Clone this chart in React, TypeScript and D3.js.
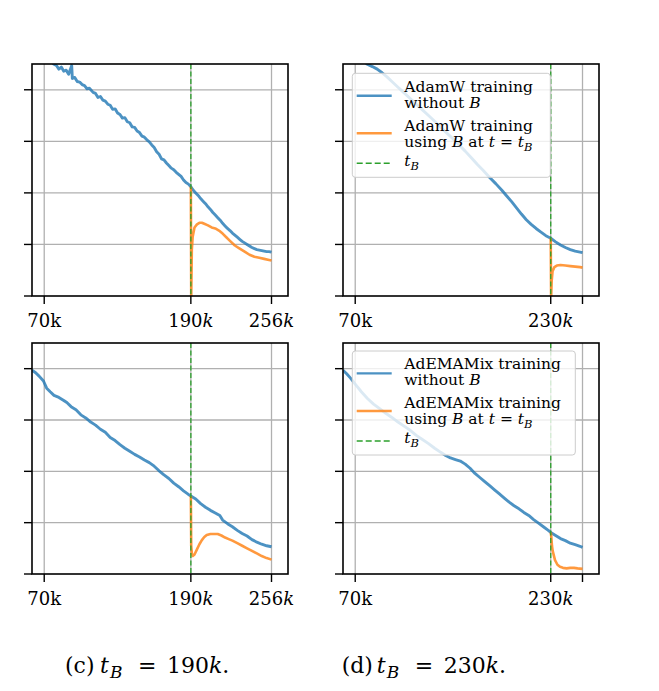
import React from 'react';
import * as d3 from 'd3';

type Pt = [number, number];

// ---------- data (x in thousands of steps, y in axis units) ----------
const optimizerNames = ['AdamW', 'AdEMAMix'];
const tBValues = [190, 230];
const captionLetters = ['(c)', '(d)'];

const xTicks190 = [70, 190, 256];
const xTickLabels190 = ['70', '190', '256'];
const xTickItalic190 = [false, true, true];
const xTicks230 = [70, 230, 256];
const xTickLabels230 = ['70', '230', ''];
const xTickItalic230 = [false, true, true];
const yTicks = [0, 1, 2, 3, 4];

const adamwT190Base: Pt[] = [
  [72, 4.85], [77.6, 4.5], [80, 4.47], [82, 4.4], [84, 4.44], [86, 4.36], [88, 4.38], [90, 4.3], [92.5, 4.47], [93, 4.22], [95, 4.24], [97, 4.16],
  [99, 4.15], [101, 4.1], [103, 4.08], [105, 4.02], [107, 4.03], [110, 3.95], [112, 3.93], [114, 3.85], [116, 3.87], [118, 3.8], [120, 3.78], [122, 3.72], [124, 3.7], [126, 3.62], [128, 3.63], [130, 3.55],
  [132, 3.52], [134, 3.45], [136, 3.46], [138, 3.38], [140, 3.36], [142, 3.28], [144, 3.27], [146, 3.2], [148, 3.17], [150, 3.1], [152, 3.08], [154, 3.03], [156, 2.99], [158, 2.93], [160, 2.88], [162, 2.8],
  [164, 2.75], [166, 2.66], [168, 2.64], [170, 2.58], [172, 2.53], [174, 2.48], [176, 2.45], [178, 2.4], [180, 2.36], [182, 2.32], [184, 2.25], [186, 2.2], [188, 2.17], [190, 2.12], [192, 2.05], [194, 2.0],
  [196, 1.95], [198, 1.89], [200, 1.84], [202, 1.79], [204, 1.73], [206, 1.68], [208, 1.62], [210, 1.57], [212, 1.52], [214, 1.47], [216, 1.41], [218, 1.36], [220, 1.31], [222, 1.27], [224, 1.22], [226, 1.18],
  [228, 1.14], [230, 1.1], [232, 1.06], [234, 1.03], [236, 1.0], [238, 0.97], [240, 0.94], [242, 0.92], [244, 0.9], [246, 0.89], [248, 0.88], [250, 0.87], [252, 0.86], [254, 0.86], [256, 0.85],
];
const adamwT190Reset: Pt[] = [
  [190, 2.12], [190.3, -0.05], [190.8, 0.9], [191.5, 1.15], [193, 1.33], [195, 1.39], [197, 1.42],
  [199, 1.42], [201, 1.4], [204, 1.37], [207, 1.33], [210, 1.31], [213, 1.27], [216, 1.21], [219, 1.14],
  [222, 1.07], [226, 0.98], [230, 0.92], [234, 0.86], [238, 0.8], [242, 0.76], [246, 0.74], [250, 0.72],
  [254, 0.7], [256, 0.69],
];
const adamwT230Base: Pt[] = [
  [75, 4.75], [79.4, 4.5], [84, 4.45], [88, 4.4], [92, 4.33], [96, 4.25], [100, 4.16], [105, 4.05],
  [110, 3.94], [115, 3.83], [120, 3.72], [125, 3.61], [130, 3.5], [135, 3.39], [140, 3.27], [145, 3.16],
  [150, 3.05], [155, 2.93], [160, 2.81], [165, 2.68], [170, 2.55], [175, 2.43], [180, 2.3], [185, 2.18],
  [190, 2.05], [194, 1.94], [198, 1.83], [202, 1.71], [206, 1.59], [210, 1.48], [214, 1.39], [218, 1.31],
  [222, 1.24], [226, 1.17], [230, 1.12], [234, 1.05], [238, 0.99], [242, 0.94], [246, 0.9], [250, 0.87],
  [254, 0.85], [256, 0.84],
];
const adamwT230Reset: Pt[] = [
  [230, 1.12], [230.3, -0.05], [230.8, 0.3], [231.5, 0.48], [233, 0.56], [235, 0.59], [238, 0.6],
  [242, 0.59], [246, 0.58], [250, 0.57], [254, 0.56], [256, 0.55],
];
const ademixT190Base: Pt[] = [
  [60, 3.97], [63, 3.92], [66, 3.85], [69.4, 3.76], [72, 3.62], [74.9, 3.55], [78, 3.48], [82, 3.44],
  [86, 3.38], [88.5, 3.34], [92, 3.26], [96, 3.2], [100, 3.1], [104, 3.04], [108, 2.96], [112, 2.9],
  [116, 2.82], [120, 2.76], [124, 2.66], [128, 2.6], [132, 2.52], [136, 2.45], [140, 2.39], [144, 2.33],
  [148, 2.28], [152, 2.22], [156, 2.17], [160, 2.1], [164, 2.01], [168, 1.93], [172, 1.86], [176, 1.77],
  [180, 1.7], [184, 1.62], [188, 1.55], [190, 1.52], [194, 1.46], [198, 1.37], [202, 1.3], [206, 1.24],
  [210, 1.19], [213.7, 1.14], [216, 1.05], [220, 0.98], [224, 0.92], [228, 0.85], [232, 0.79], [236, 0.74],
  [240, 0.67], [244, 0.62], [248, 0.58], [252, 0.55], [256, 0.53],
];
const ademixT190Reset: Pt[] = [
  [190, 1.52], [190.3, 0.55], [190.8, 0.4], [191.5, 0.35], [193, 0.38], [195, 0.48], [197, 0.58],
  [199, 0.66], [201, 0.72], [203, 0.76], [206, 0.78], [209, 0.78], [212, 0.78], [215, 0.75], [218, 0.71],
  [221, 0.68], [224, 0.65], [228, 0.6], [232, 0.55], [236, 0.5], [240, 0.45], [244, 0.4], [248, 0.35],
  [252, 0.31], [256, 0.28],
];
const ademixT230Base: Pt[] = [
  [60, 3.97], [63, 3.9], [66, 3.82], [70, 3.7], [75, 3.55], [80, 3.42], [85, 3.31], [90, 3.22],
  [95, 3.13], [100, 3.05], [105, 2.96], [110, 2.88], [115, 2.8], [120, 2.7], [125, 2.62], [130, 2.54],
  [135, 2.45], [140, 2.37], [144, 2.31], [148, 2.26], [152, 2.23], [156, 2.2], [160, 2.14], [164, 2.06],
  [168, 1.96], [172, 1.88], [176, 1.8], [180, 1.72], [184, 1.64], [188, 1.56], [192, 1.48], [196, 1.4],
  [200, 1.33], [204, 1.27], [208, 1.2], [212, 1.14], [216, 1.06], [220, 0.99], [224, 0.92], [228, 0.85],
  [230, 0.81], [234, 0.75], [238, 0.69], [242, 0.65], [246, 0.6], [250, 0.57], [254, 0.54], [256, 0.52],
];
const ademixT230Reset: Pt[] = [
  [230, 0.81], [230.5, 0.72], [231, 0.55], [231.6, 0.45], [233.5, 0.27], [235.5, 0.18], [237.6, 0.14],
  [240, 0.12], [243, 0.11], [246, 0.12], [249, 0.12], [252, 0.11], [256, 0.1],
];

// ---------- styling ----------
const SERIF = "'DejaVu Serif', serif";
const BLUE = '#1f77b4';
const ORANGE = '#ff7f0e';
const GREEN = '#2ca02c';
const X_DOMAIN: [number, number] = [60, 269.5];
const Y_DOMAIN: [number, number] = [0, 4.5];

interface PanelProps {
  id: string;
  x0: number; y0: number; w: number; h: number;
  base: Pt[]; reset: Pt[]; tB: number;
  ticks: number[]; labels: string[]; italic: boolean[];
  legendName?: string; legendW?: number; legendDy?: number;
}

function Legend({ x, y, w, h, name }: { x: number; y: number; w: number; h: number; name: string }) {
  const hx1 = x + 4.4, hx2 = x + 39.4, tx = x + 52;
  return (
    <g fontFamily={SERIF} fontSize={15.5} fill="#000">
      <rect x={x} y={y} width={w} height={h} rx={3} fill="#fff" fillOpacity={0.8} stroke="#ccc" strokeWidth={1} />
      <line x1={hx1} x2={hx2} y1={y + 22.4} y2={y + 22.4} stroke={BLUE} strokeOpacity={0.8} strokeWidth={2.4} />
      <text x={tx} y={y + 18.4}>{name} training</text>
      <text x={tx} y={y + 34.4}>without <tspan fontStyle="italic">B</tspan></text>
      <line x1={hx1} x2={hx2} y1={y + 60} y2={y + 60} stroke={ORANGE} strokeOpacity={0.8} strokeWidth={2.4} />
      <text x={tx} y={y + 57.4}>{name} training</text>
      <text x={tx} y={y + 73.4}>
        using <tspan fontStyle="italic">B</tspan> at <tspan fontStyle="italic">t</tspan> = <tspan fontStyle="italic">t</tspan>
        <tspan fontStyle="italic" fontSize={11.5} dy={4}>B</tspan>
      </text>
      <line x1={hx1} x2={hx2} y1={y + 90} y2={y + 90} stroke={GREEN} strokeWidth={1.6} strokeDasharray="6,3" />
      <text x={tx} y={y + 92.4}>
        <tspan fontStyle="italic">t</tspan>
        <tspan fontStyle="italic" fontSize={11.5} dy={4}>B</tspan>
      </text>
    </g>
  );
}

function Panel(p: PanelProps) {
  const xs = d3.scaleLinear().domain(X_DOMAIN).range([p.x0, p.x0 + p.w]);
  const ys = d3.scaleLinear().domain(Y_DOMAIN).range([p.y0 + p.h, p.y0]);
  const line = d3.line<Pt>().x(d => xs(d[0])).y(d => ys(d[1]));
  const bottom = p.y0 + p.h;
  return (
    <g>
      <defs>
        <clipPath id={p.id}>
          <rect x={p.x0} y={p.y0} width={p.w} height={p.h} />
        </clipPath>
      </defs>
      {yTicks.filter(t => t > 0).map(t => (
        <line key={'gy' + t} x1={p.x0} x2={p.x0 + p.w} y1={ys(t)} y2={ys(t)} stroke="#b0b0b0" strokeWidth={1.3} />
      ))}
      {p.ticks.map(t => (
        <line key={'gx' + t} x1={xs(t)} x2={xs(t)} y1={p.y0} y2={bottom} stroke="#b0b0b0" strokeWidth={1.3} />
      ))}
      <g clipPath={`url(#${p.id})`}>
        <path d={line(p.base) || ''} fill="none" stroke={BLUE} strokeOpacity={0.8} strokeWidth={2.9} strokeLinejoin="round" />
        <path d={line(p.reset) || ''} fill="none" stroke={ORANGE} strokeOpacity={0.8} strokeWidth={2.6} strokeLinejoin="round" />
        <line x1={xs(p.tB)} x2={xs(p.tB)} y1={p.y0} y2={bottom} stroke={GREEN} strokeWidth={1.3} strokeDasharray="5,2.5" />
      </g>
      <rect x={p.x0} y={p.y0} width={p.w} height={p.h} fill="none" stroke="#000" strokeWidth={1.6} />
      {yTicks.map(t => (
        <line key={'ty' + t} x1={p.x0 - 8} x2={p.x0} y1={ys(t)} y2={ys(t)} stroke="#000" strokeWidth={1.4} />
      ))}
      {p.ticks.map(t => (
        <line key={'tx' + t} x1={xs(t)} x2={xs(t)} y1={bottom} y2={bottom + 8} stroke="#000" strokeWidth={1.4} />
      ))}
      {p.ticks.map((t, i) => p.labels[i] ? (
        <text key={'lx' + t} x={xs(t)} y={bottom + 31} textAnchor="middle" fontFamily={SERIF} fontSize={18}>
          {p.labels[i]}
          <tspan fontStyle={p.italic[i] ? 'italic' : 'normal'}>k</tspan>
        </text>
      ) : null)}
      {p.legendName ? (
        <Legend x={p.x0 + 9.3} y={p.y0 + (p.legendDy ?? 9)} w={p.legendW ?? 200} h={104} name={p.legendName} />
      ) : null}
    </g>
  );
}

function Caption({ x, letter, tB }: { x: number; letter: string; tB: number }) {
  const y = 673;
  return (
    <text y={y} fontFamily={SERIF} fontSize={22}>
      <tspan x={x}>{letter}</tspan>
      <tspan x={x + 35} fontStyle="italic">t</tspan>
      <tspan x={x + 45} fontStyle="italic" fontSize={17} dy={5}>B</tspan>
      <tspan x={x + 73} dy={-5}>=</tspan>
      <tspan x={x + 102}>{tB}</tspan>
      <tspan fontStyle="italic">k</tspan>
      <tspan>.</tspan>
    </text>
  );
}

export default function App() {
  return (
    <svg width={659} height={691} style={{ position: 'absolute', left: 0, top: 0, background: '#fff' }}>
      <rect x={0} y={0} width={659} height={691} fill="#fff" />
      <Panel id="p1" x0={32} y0={64} w={256} h={232} base={adamwT190Base} reset={adamwT190Reset} tB={tBValues[0]}
        ticks={xTicks190} labels={xTickLabels190} italic={xTickItalic190} />
      <Panel id="p2" x0={343} y0={64} w={256} h={232} base={adamwT230Base} reset={adamwT230Reset} tB={tBValues[1]}
        ticks={xTicks230} labels={xTickLabels230} italic={xTickItalic230}
        legendName={optimizerNames[0]} legendW={198} legendDy={9.3} />
      <Panel id="p3" x0={32} y0={343} w={256} h={231} base={ademixT190Base} reset={ademixT190Reset} tB={tBValues[0]}
        ticks={xTicks190} labels={xTickLabels190} italic={xTickItalic190} />
      <Panel id="p4" x0={343} y0={343} w={256} h={231} base={ademixT230Base} reset={ademixT230Reset} tB={tBValues[1]}
        ticks={xTicks230} labels={xTickLabels230} italic={xTickItalic230}
        legendName={optimizerNames[1]} legendW={223} legendDy={8} />
      <Caption x={65} letter={captionLetters[0]} tB={tBValues[0]} />
      <Caption x={341.7} letter={captionLetters[1]} tB={tBValues[1]} />
    </svg>
  );
}
